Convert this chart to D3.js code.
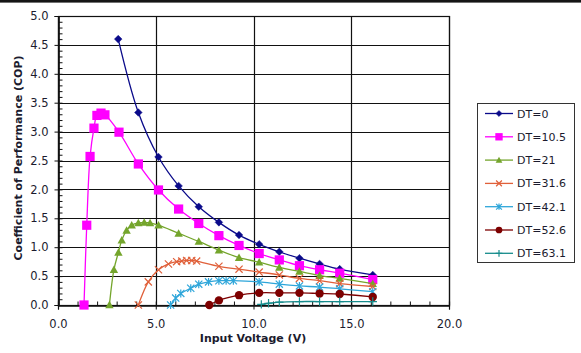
<!DOCTYPE html>
<html><head><meta charset="utf-8">
<script src="https://cdn.jsdelivr.net/npm/d3@7"></script>
<style>
html,body{margin:0;padding:0;background:#fff;}
svg{display:block;}
text{font-family:"DejaVu Sans",Verdana,sans-serif;fill:#1b1b2e;}
</style></head><body>
<svg id="c" width="581" height="353"></svg>
<script>
// ---- data ----
const seriesNames = ["DT=0","DT=10.5","DT=21","DT=31.6","DT=42.1","DT=52.6","DT=63.1"];
const x_dt0   = [3.08,4.11,5.14,6.17,7.2,8.23,9.26,10.29,11.32,12.35,13.38,14.41,16.1];
const y_dt0   = [4.6,3.33,2.56,2.06,1.70,1.43,1.21,1.05,0.92,0.81,0.71,0.62,0.52];
const x_dt105 = [1.33,1.47,1.64,1.84,1.99,2.2,2.4,3.12,4.11,5.14,6.17,7.2,8.23,9.26,10.29,11.32,12.35,13.38,14.41,16.1];
const y_dt105 = [0,1.38,2.57,3.06,3.28,3.32,3.29,2.99,2.44,1.99,1.66,1.41,1.20,1.03,0.89,0.78,0.68,0.61,0.55,0.44];
const x_dt21  = [2.63,2.86,3.09,3.26,3.51,3.77,4.11,4.41,4.71,5.14,6.17,7.2,8.23,9.26,10.29,11.32,12.35,13.38,14.41,16.1];
const y_dt21  = [0,0.61,0.91,1.12,1.29,1.38,1.42,1.43,1.42,1.38,1.24,1.10,0.95,0.82,0.74,0.65,0.58,0.51,0.46,0.37];
const x_dt316 = [4.11,4.62,5.14,5.65,6.07,6.33,6.58,6.84,7.09,8.23,9.26,10.29,11.32,12.35,13.38,14.41,16.1];
const y_dt316 = [0,0.40,0.61,0.71,0.75,0.76,0.77,0.77,0.76,0.67,0.62,0.57,0.52,0.46,0.42,0.37,0.32];
const x_dt421 = [5.76,6.02,6.28,6.79,7.2,7.7,8.23,8.6,8.97,10.29,11.32,12.35,13.38,14.41,16.1];
const y_dt421 = [0,0.12,0.20,0.29,0.36,0.40,0.42,0.42,0.42,0.40,0.36,0.33,0.31,0.28,0.23];
const x_dt526 = [7.74,8.23,9.26,10.29,11.32,12.35,13.38,14.41,16.1];
const y_dt526 = [0,0.08,0.17,0.21,0.21,0.21,0.20,0.19,0.14];
const x_dt631 = [10.4,10.77,11.32,12.35,13.38,14.41,16.1];
const y_dt631 = [0.01,0.03,0.05,0.06,0.06,0.06,0.06];
const xTicks = [0,5,10,15,20];
const yTicks = [0,0.5,1,1.5,2,2.5,3,3.5,4,4.5,5];
const xTitle = "Input Voltage (V)";
const yTitle = "Coefficient of Performance (COP)";

const xsAll = [x_dt0,x_dt105,x_dt21,x_dt316,x_dt421,x_dt526,x_dt631];
const ysAll = [y_dt0,y_dt105,y_dt21,y_dt316,y_dt421,y_dt526,y_dt631];
const colors = ["#0a0a8a","#ff00ff","#74a52c","#e0603a","#2ea6da","#7d0000","#168c8c"];
const markers = ["diamond","square","triangle","cross","star","circle","plus"];

const svg = d3.select("#c");
svg.append("rect").attr("x",0).attr("y",0).attr("width",581).attr("height",2.6).attr("fill","#151515");

const L=58,R=449,T=16,B=305;
const x = d3.scaleLinear().domain([0,20]).range([L,R]);
const y = d3.scaleLinear().domain([0,5]).range([B,T]);

// gridlines
const g = svg.append("g");
g.selectAll(".hg").data(yTicks).join("line")
 .attr("x1",L).attr("x2",R).attr("y1",d=>Math.round(y(d))+0.5).attr("y2",d=>Math.round(y(d))+0.5)
 .attr("stroke","#111").attr("stroke-width",1.2);
g.selectAll(".vg").data(xTicks).join("line")
 .attr("y1",T).attr("y2",B).attr("x1",d=>Math.round(x(d))+0.5).attr("x2",d=>Math.round(x(d))+0.5)
 .attr("stroke","#111").attr("stroke-width",1.2);

// axes
const yAxis = d3.axisLeft(y).tickValues(yTicks).tickFormat(d3.format(".1f")).tickSize(4).tickPadding(6);
const ya = svg.append("g").attr("transform",`translate(${L+0.5},0)`).call(yAxis);
const yMinor = d3.axisRight(y).tickValues(d3.range(0,50).map(i=>i/10)).tickFormat("").tickSize(4);
svg.append("g").attr("transform",`translate(${L+0.5},0)`).call(yMinor);
const xAxis = d3.axisBottom(x).tickValues(xTicks).tickFormat(d3.format(".1f")).tickSize(4).tickPadding(10);
const xa = svg.append("g").attr("transform",`translate(0,${B+0.5})`).call(xAxis);
const xMinor = d3.axisTop(x).tickValues(d3.range(0,20)).tickFormat("").tickSize(4);
svg.append("g").attr("transform",`translate(0,${B+0.5})`).call(xMinor);
svg.selectAll(".domain").attr("stroke","#111").attr("stroke-width",1.2);
svg.selectAll(".tick line").attr("stroke","#111");
svg.selectAll(".tick text").attr("font-size",11.5).attr("font-family","DejaVu Sans, Verdana, sans-serif").attr("fill","#1b1b2e");

// plot border
svg.append("rect").attr("x",L+0.5).attr("y",T+0.5).attr("width",R-L).attr("height",B-T)
 .attr("fill","none").attr("stroke","#111").attr("stroke-width",1.2);

// titles
svg.append("text").attr("x",253).attr("y",342).attr("text-anchor","middle")
 .attr("font-size",11).attr("font-weight","bold").text(xTitle);
svg.append("text").attr("transform","translate(22,158) rotate(-90)").attr("text-anchor","middle")
 .attr("font-size",11).attr("font-weight","bold").text(yTitle);

// marker drawer
function drawMarker(sel, type, color, size){
  const s=size;
  if(type==="diamond"){
    sel.append("path").attr("d",`M0,${-s}L${s},0L0,${s}L${-s},0Z`).attr("fill",color).attr("stroke",color).attr("stroke-width",0.5);
  } else if(type==="square"){
    sel.append("rect").attr("x",-s).attr("y",-s).attr("width",2*s).attr("height",2*s).attr("fill",color);
  } else if(type==="triangle"){
    sel.append("path").attr("d",`M0,${-s}L${s},${s*0.8}L${-s},${s*0.8}Z`).attr("fill",color);
  } else if(type==="cross"){
    sel.append("path").attr("d",`M${-s},${-s}L${s},${s}M${-s},${s}L${s},${-s}`).attr("stroke",color).attr("stroke-width",1.2).attr("fill","none");
  } else if(type==="star"){
    sel.append("path").attr("d",`M${-s},${-s}L${s},${s}M${-s},${s}L${s},${-s}M0,${-s*1.1}L0,${s*1.1}`).attr("stroke",color).attr("stroke-width",1.2).attr("fill","none");
  } else if(type==="circle"){
    sel.append("circle").attr("r",s).attr("fill",color);
  } else if(type==="plus"){
    sel.append("path").attr("d",`M0,${-s}L0,${s}M${-s},0L${s},0`).attr("stroke",color).attr("stroke-width",1.2).attr("fill","none");
  }
}
const msize = [3.8,4.6,4.2,3.6,3.6,4.2,4.2];

const line = d3.line().x(d=>x(d[0])).y(d=>y(d[1])).curve(d3.curveCatmullRom.alpha(0.5));
const plot = svg.append("g");
for(let i=0;i<seriesNames.length;i++){
  const pts = xsAll[i].map((v,j)=>[v,ysAll[i][j]]);
  plot.append("path").datum(pts).attr("d",line).attr("fill","none").attr("stroke",colors[i]).attr("stroke-width",1.3);
  pts.forEach(p=>{
    const m = plot.append("g").attr("transform",`translate(${x(p[0])},${y(p[1])})`);
    drawMarker(m,markers[i],colors[i],msize[i]);
  });
}

// legend
const lg = svg.append("g");
lg.append("rect").attr("x",477.5).attr("y",103.5).attr("width",97).attr("height",159)
 .attr("fill","#fff").attr("stroke","#333").attr("stroke-width",1);
seriesNames.forEach((n,i)=>{
  const yy = 113.5 + i*23.3;
  lg.append("line").attr("x1",485).attr("x2",513).attr("y1",yy).attr("y2",yy).attr("stroke",colors[i]).attr("stroke-width",1.3);
  const m = lg.append("g").attr("transform",`translate(499,${yy})`);
  drawMarker(m,markers[i],colors[i],msize[i]*0.8);
  lg.append("text").attr("x",517).attr("y",yy+4).attr("font-size",11).text(n);
});
</script>
</body></html>
